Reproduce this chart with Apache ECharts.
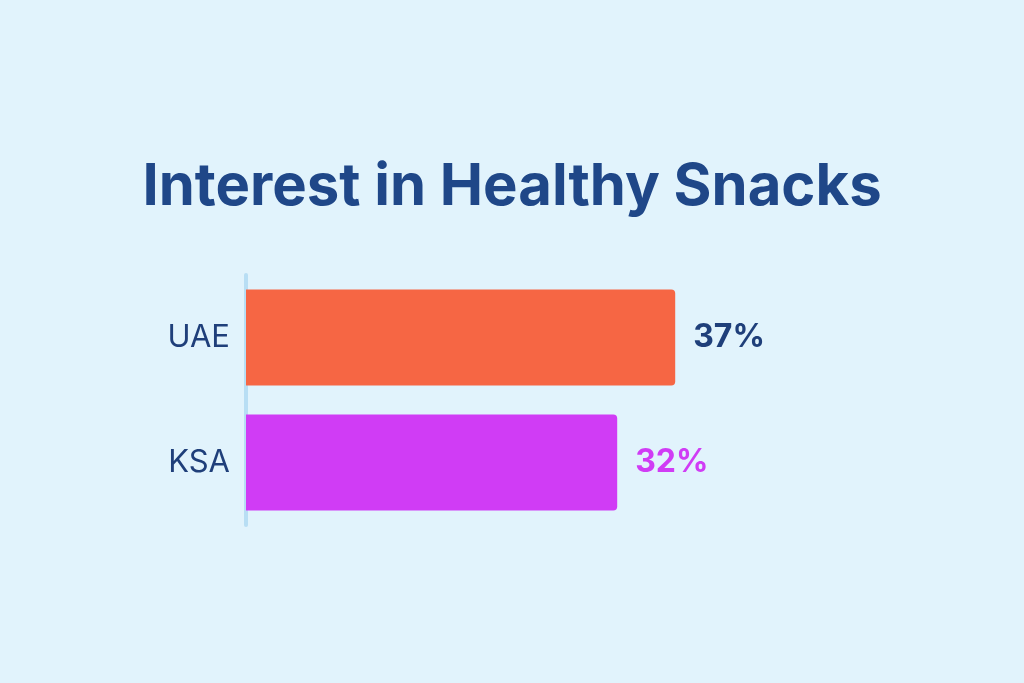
<!DOCTYPE html>
<html>
<head>
<meta charset="utf-8">
<script src="https://cdn.jsdelivr.net/npm/echarts@6/dist/echarts.min.js"></script>
<style>
  html, body { margin: 0; padding: 0; background: #e1f3fc; }
  #chart { width: 1024px; height: 683px; }
</style>
</head>
<body>
<div id="chart"></div>
<script>
// data
var countries = ['UAE', 'KSA'];
var interest = [37, 32];
var barColors = ['#f66644', '#d03cf5'];
var labelColors = ['#1f3f7a', '#d03cf5'];

var myChart = echarts.init(document.getElementById('chart'));

var option = {
    backgroundColor: '#e1f3fc',
    title: {
        text: 'Interest in Healthy Snacks',
        left: 'center',
        top: 154,
        textStyle: {
            fontFamily: 'Inter',
            fontSize: 58,
            fontWeight: 'bold',
            color: '#1f4788'
        }
    },
    grid: { left: 246, top: 275, height: 250, width: 580 },
    xAxis: {
        type: 'value',
        min: 0,
        max: 50,
        show: false
    },
    yAxis: {
        type: 'category',
        inverse: true,
        data: countries,
        axisLine: { lineStyle: { color: '#b8def4', width: 4 } },
        axisTick: { show: false },
        axisLabel: {
            fontFamily: 'Inter',
            fontSize: 31,
            color: '#1f3f7a',
            margin: 16
        }
    },
    series: [{
        type: 'bar',
        barWidth: 96,
        data: interest.map(function (v, i) {
            return {
                value: v,
                itemStyle: { color: barColors[i], borderRadius: [0, 4, 4, 0] },
                label: { color: labelColors[i] }
            };
        }),
        label: {
            show: true,
            position: 'right',
            distance: 18,
            formatter: '{c}%',
            fontFamily: 'Inter',
            fontSize: 32,
            fontWeight: 'bold'
        }
    }]
};
myChart.setOption(option, true);
</script>
</body>
</html>
